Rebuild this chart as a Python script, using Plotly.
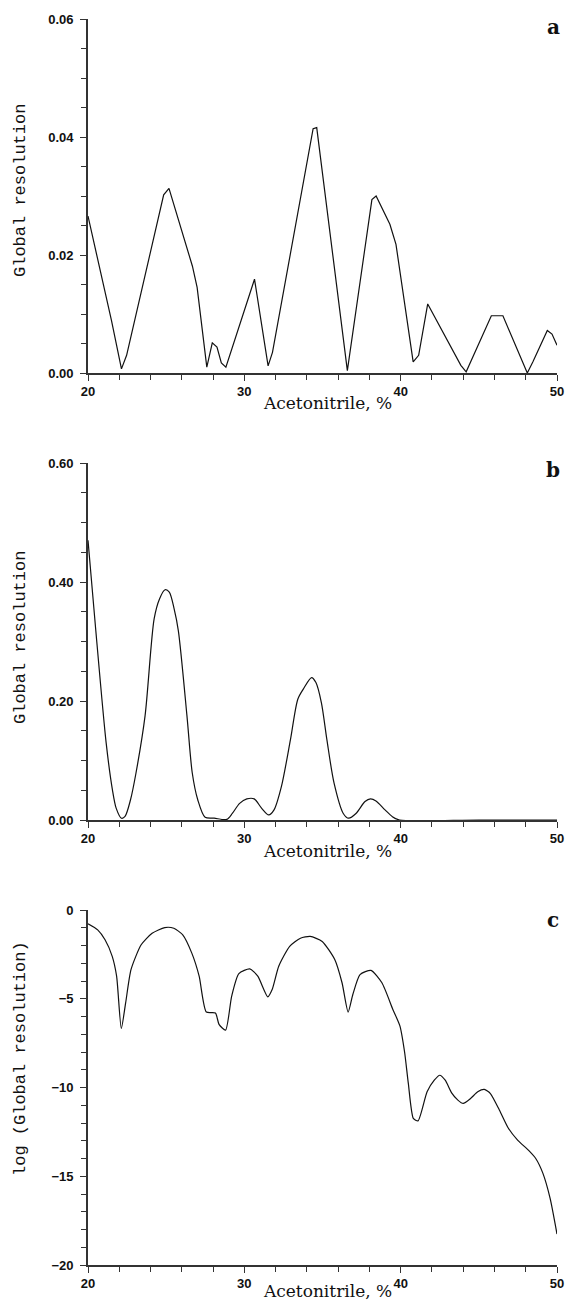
import plotly.graph_objects as go

# ---------------- data ----------------
a_x = [20, 20.7, 21.5, 22.14, 22.47, 24.84, 25.18, 26.68, 26.98, 27.6, 27.95, 28.25, 28.53, 28.82,
       30.65, 31.52, 31.8, 34.4, 34.63, 36.59, 38.16, 38.43, 39.31, 39.7, 40.8, 41.15, 41.73,
       43.85, 44.19, 45.8, 46.54, 48.1, 48.46, 49.38, 49.68, 50]
a_y = [0.0266, 0.0184, 0.0089, 0.0007, 0.0030, 0.0302, 0.0313, 0.0181, 0.0145, 0.0010, 0.0051,
       0.0044, 0.0017, 0.0010, 0.0159, 0.0012, 0.0035, 0.0414, 0.0416, 0.0004, 0.0294, 0.0300,
       0.0252, 0.0218, 0.0019, 0.0030, 0.0117, 0.0013, 0.0002, 0.0097, 0.0097, 0.0000, 0.0019,
       0.0072, 0.0066, 0.0047]

b_x = [20, 20.5, 21.16, 21.56, 21.8, 22.14, 22.37, 22.72, 23.07, 23.65, 24.23, 24.58, 24.93,
       25.2, 25.51, 25.78, 26.33, 26.67, 27.02, 27.49, 28.07, 28.88, 29.23, 29.7, 30.16, 30.63,
       31.1, 31.56, 31.9, 32.37, 32.95, 33.42, 33.77, 34.3, 34.58, 34.93, 35.28, 35.74, 36.33,
       36.67, 37.14, 37.72, 38.07, 38.42, 39.0, 39.47, 39.93, 45, 50]
b_y = [0.47, 0.318, 0.130, 0.051, 0.020, 0.003, 0.006, 0.034, 0.079, 0.175, 0.338, 0.372, 0.387,
       0.383, 0.355, 0.318, 0.175, 0.079, 0.034, 0.0045, 0.003, 0.001, 0.011, 0.028, 0.0355,
       0.0355, 0.020, 0.0085, 0.017, 0.056, 0.135, 0.203, 0.220, 0.2394, 0.231, 0.197, 0.135,
       0.062, 0.011, 0.003, 0.011, 0.031, 0.0355, 0.032, 0.017, 0.0056, 0.0, 0.0, 0.0]

c_x = [20, 20.62, 21.09, 21.55, 21.83, 22.13, 22.41, 22.75, 23.4, 24.1, 24.91, 25.49, 26.06,
       26.64, 27.11, 27.57, 28.15, 28.38, 28.8, 29.19, 29.65, 30.35, 30.86, 31.5, 31.78, 32.2,
       32.9, 33.59, 34.21, 34.98, 35.79, 36.25, 36.64, 36.94, 37.4, 38.1, 38.8, 39.5, 39.95,
       40.25, 40.49, 40.81, 41.11, 41.69, 42.15, 42.5, 42.85, 43.26, 43.66, 44.0, 44.47, 44.93,
       45.35, 45.74, 46.32, 46.9, 47.48, 48.17, 48.64, 49.1, 49.56, 50.0]
c_y = [-0.78, -1.12, -1.68, -2.61, -3.73, -6.68, -5.22, -3.36, -1.96, -1.31, -0.99, -1.03, -1.40,
       -2.43, -3.73, -5.75, -5.80, -6.44, -6.77, -4.85, -3.58, -3.32, -3.73, -4.89, -4.48, -3.17,
       -2.05, -1.59, -1.49, -1.77, -2.80, -4.10, -5.75, -4.76, -3.64, -3.40, -4.10, -5.60, -6.53,
       -8.0, -9.77, -11.74, -11.88, -10.24, -9.59, -9.31, -9.59, -10.30, -10.71, -10.90, -10.62,
       -10.24, -10.11, -10.34, -11.28, -12.31, -12.96, -13.53, -14.0, -14.84, -16.25, -18.26]

panel_letters = ["a", "b", "c"]
x_title = "Acetonitrile, %"
y_titles = ["Global resolution", "Global resolution", "log (Global resolution)"]

# ---------------- layout ----------------
W, H = 565, 1306
X0, X1 = 88, 557
panels = [(19, 373), (463, 820), (910, 1265)]  # pixel top/bottom of plot areas


def py(p):
    return 1 - p / H


def px(p):
    return p / W


fig = go.Figure()
series = [(a_x, a_y), (b_x, b_y), (c_x, c_y)]
shapes = [dict(shape="linear"), dict(shape="spline", smoothing=0.8), dict(shape="spline", smoothing=0.6)]
for i, (xs, ys) in enumerate(series):
    sfx = "" if i == 0 else str(i + 1)
    fig.add_trace(go.Scatter(x=xs, y=ys, mode="lines",
                             line=dict(color="#111", width=1.2, **shapes[i]),
                             xaxis="x" + sfx, yaxis="y" + sfx,
                             showlegend=False, hoverinfo="skip"))

tickfont = dict(family="Liberation Sans", size=13, color="#111", weight="bold")
axcol = "#333"

yranges = [[0, 0.06], [0, 0.6], [-20, 0]]
ydticks = [0.02, 0.2, 5]
yminor = [0.005, 0.05, 1]
yfmt = [".2f", ".2f", "d"]

lay = dict(width=W, height=H, margin=dict(l=0, r=0, t=0, b=0),
           paper_bgcolor="white", plot_bgcolor="white", showlegend=False)

for i in range(3):
    sfx = "" if i == 0 else str(i + 1)
    top, bot = panels[i]
    lay["xaxis" + sfx] = dict(
        domain=[px(X0), px(X1)], anchor="y" + sfx, range=[20, 50],
        tick0=20, dtick=10, ticks="outside", ticklen=6, tickwidth=1.2, tickcolor=axcol,
        minor=dict(dtick=2, tick0=20, ticks="outside", ticklen=5, tickwidth=1.2, tickcolor=axcol),
        showline=True, linecolor=axcol, linewidth=1.6, showgrid=False, zeroline=False,
        tickfont=tickfont, automargin=False, ticklabelstandoff=0)
    lay["yaxis" + sfx] = dict(
        domain=[py(bot), py(top)], anchor="x" + sfx, range=yranges[i],
        tick0=yranges[i][0], dtick=ydticks[i], tickformat=yfmt[i],
        ticks="outside", ticklen=6, tickwidth=1.2, tickcolor=axcol,
        minor=dict(dtick=yminor[i], ticks="outside", ticklen=5, tickwidth=1.2, tickcolor=axcol),
        showline=True, linecolor=axcol, linewidth=1.6, showgrid=False, zeroline=False,
        tickfont=tickfont, automargin=False, ticklabelstandoff=4)

fig.update_layout(**lay)

ann = []
letter_y = [27, 470, 920]
xt_y = [403, 851, 1291]
yt_y = [191, 638, 1059]
for i in range(3):
    ann.append(dict(text=panel_letters[i], x=px(553), y=py(letter_y[i]), xref="paper", yref="paper",
                    xanchor="center", yanchor="middle", showarrow=False,
                    font=dict(family="DejaVu Serif", size=20, color="#111", weight="bold")))
    ann.append(dict(text=x_title, x=px(327), y=py(xt_y[i]), xref="paper", yref="paper",
                    xanchor="center", yanchor="middle", showarrow=False,
                    font=dict(family="DejaVu Serif", size=17, color="#111")))
    ann.append(dict(text=y_titles[i], x=px(20), y=py(yt_y[i]), xref="paper", yref="paper",
                    xanchor="center", yanchor="middle", showarrow=False, textangle=-90,
                    font=dict(family="Liberation Mono", size=17, color="#111")))
fig.update_layout(annotations=ann)

fig.write_html("out.html")
